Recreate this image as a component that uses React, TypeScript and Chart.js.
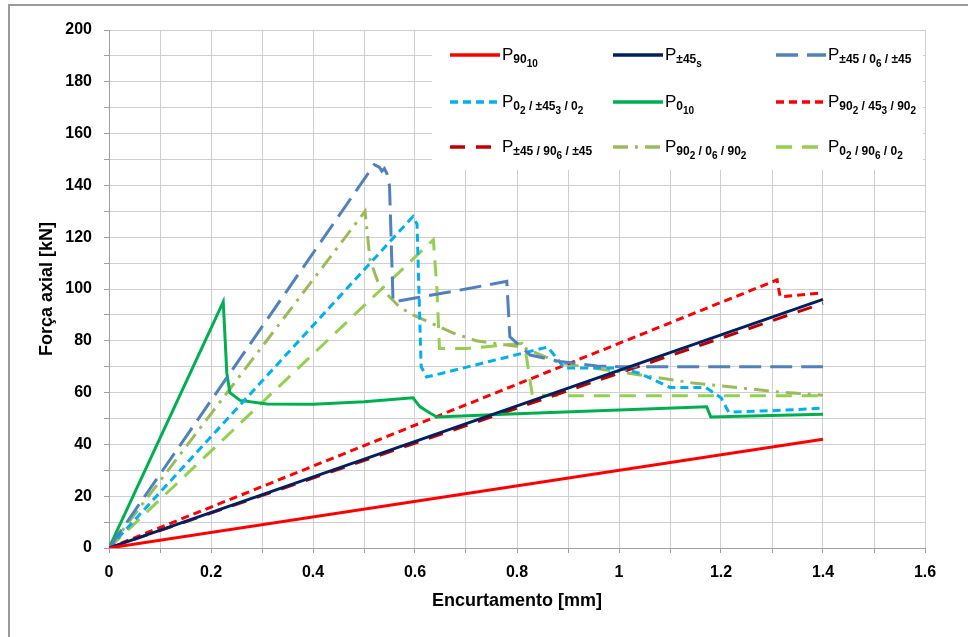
import React, { useEffect, useRef } from "react";
import { Chart, registerables } from "chart.js";

Chart.register(...registerables);

// ---- data ----
const p90_10X = [0, 1.4];
const p90_10Y = [0, 42];

const p45sX = [0, 1.4];
const p45sY = [0, 96];

const p45_06_45X = [0, 0.52, 0.53, 0.535, 0.54, 0.545, 0.55, 0.557, 0.6, 0.7, 0.78, 0.786, 0.826, 0.884, 0.957, 1.0, 1.4];
const p45_06_45Y = [0, 148, 147, 145.5, 146.5, 144.5, 140, 95, 96.5, 100, 103, 81.5, 74.5, 72, 70.3, 70, 70];

const p02_453_02X = [0, 0.596, 0.604, 0.612, 0.623, 0.86, 0.875, 0.893, 1.0, 1.04, 1.1, 1.17, 1.2, 1.215, 1.3, 1.4];
const p02_453_02Y = [0, 128, 125, 70, 66, 77.6, 74, 69.5, 69.5, 67.5, 62, 62, 58, 52.5, 53, 54];

const p0_10X = [0, 0.224, 0.231, 0.237, 0.257, 0.31, 0.4, 0.5, 0.596, 0.61, 0.63, 0.643, 0.8, 1.0, 1.172, 1.18, 1.4];
const p0_10Y = [0, 95, 67.6, 60, 57, 55.6, 55.5, 56.5, 58, 54.5, 52, 50.6, 51.8, 53.3, 54.5, 50.6, 51.6];

const p902_453_902X = [0, 1.31, 1.316, 1.4];
const p902_453_902Y = [0, 103.5, 97, 98.5];

const p45_906_45X = [0, 1.4];
const p45_906_45Y = [0, 94.5];

const p902_06_902X = [0, 0.502, 0.512, 0.531, 0.57, 0.596, 0.675, 0.72, 0.81, 0.884, 1.0, 1.145, 1.316, 1.4];
const p902_06_902Y = [0, 130, 111, 100.8, 93, 90, 83, 80, 77.6, 71.4, 68, 63.7, 60.2, 59];

const p02_906_02X = [0, 0.636, 0.643, 0.648, 0.7, 0.81, 0.816, 0.83, 0.9, 1.4];
const p02_906_02Y = [0, 119, 100, 77, 77, 79, 77, 59, 58.8, 58.8];

// legend labels: [text, level] (0 = normal, 1 = subscript, 2 = sub-subscript)
type Seg = [string, number];
const label90_10: Seg[] = [["P", 0], ["90", 1], ["10", 2]];
const label45s: Seg[] = [["P", 0], ["±45", 1], ["s", 2]];
const label45_06_45: Seg[] = [["P", 0], ["±45 / 0", 1], ["6", 2], [" / ±45", 1]];
const label02_453_02: Seg[] = [["P", 0], ["0", 1], ["2", 2], [" / ±45", 1], ["3", 2], [" / 0", 1], ["2", 2]];
const label0_10: Seg[] = [["P", 0], ["0", 1], ["10", 2]];
const label902_453_902: Seg[] = [["P", 0], ["90", 1], ["2", 2], [" / 45", 1], ["3", 2], [" / 90", 1], ["2", 2]];
const label45_906_45: Seg[] = [["P", 0], ["±45 / 90", 1], ["6", 2], [" / ±45", 1]];
const label902_06_902: Seg[] = [["P", 0], ["90", 1], ["2", 2], [" / 0", 1], ["6", 2], [" / 90", 1], ["2", 2]];
const label02_906_02: Seg[] = [["P", 0], ["0", 1], ["2", 2], [" / 90", 1], ["6", 2], [" / 0", 1], ["2", 2]];

const xTitle = "Encurtamento [mm]";
const yTitle = "Força axial [kN]";

const seriesDefs = [
  { xs: p90_10X, ys: p90_10Y, label: label90_10, color: "#FF0000", dash: [] as number[] },
  { xs: p45sX, ys: p45sY, label: label45s, color: "#002060", dash: [] },
  { xs: p45_06_45X, ys: p45_06_45Y, label: label45_06_45, color: "#4F81BD", dash: [22, 9] },
  { xs: p02_453_02X, ys: p02_453_02Y, label: label02_453_02, color: "#00B0F0", dash: [8, 5] },
  { xs: p0_10X, ys: p0_10Y, label: label0_10, color: "#00B050", dash: [] },
  { xs: p902_453_902X, ys: p902_453_902Y, label: label902_453_902, color: "#FF0000", dash: [8, 5] },
  { xs: p45_906_45X, ys: p45_906_45Y, label: label45_906_45, color: "#C00000", dash: [15, 11] },
  { xs: p902_06_902X, ys: p902_06_902Y, label: label902_06_902, color: "#9BBB59", dash: [15, 7, 3, 7] },
  { xs: p02_906_02X, ys: p02_906_02Y, label: label02_906_02, color: "#92D050", dash: [16, 10] },
];

const FONT = '"Liberation Sans", Arial, sans-serif';

function drawRich(ctx: CanvasRenderingContext2D, x: number, baseline: number, segs: Seg[]) {
  let cx = x;
  for (const [t, lvl] of segs) {
    const size = lvl === 0 ? 17 : lvl === 1 ? 12 : 10;
    const dy = lvl === 0 ? 0 : lvl === 1 ? 3 : 7;
    ctx.font = `${lvl === 0 ? "normal" : "bold"} ${size}px ${FONT}`;
    ctx.fillText(t, cx, baseline + dy);
    cx += ctx.measureText(t).width;
  }
}

const framePlugin = {
  id: "frame",
  beforeDraw(chart: any) {
    const ctx = chart.ctx as CanvasRenderingContext2D;
    ctx.save();
    ctx.fillStyle = "#ffffff";
    ctx.fillRect(0, 0, chart.width, chart.height);
    ctx.strokeStyle = "#9a9a9a";
    ctx.lineWidth = 2;
    ctx.beginPath();
    ctx.moveTo(9, chart.height);
    ctx.lineTo(9, 5);
    ctx.lineTo(chart.width, 5);
    ctx.stroke();
    ctx.restore();
  },
};

const legendPlugin = {
  id: "richLegend",
  afterDatasetsDraw(chart: any) {
    const ctx = chart.ctx as CanvasRenderingContext2D;
    ctx.save();
    ctx.fillStyle = "#ffffff";
    ctx.fillRect(432, 31, 491, 139);
    const colX = [450, 613, 776];
    const rowY = [55, 102, 147];
    seriesDefs.forEach((s, i) => {
      const c = i % 3;
      const r = Math.floor(i / 3);
      const x0 = colX[c];
      const y0 = rowY[r];
      ctx.strokeStyle = s.color;
      ctx.lineWidth = 3.5;
      ctx.setLineDash(s.dash.length ? s.dash : []);
      ctx.beginPath();
      ctx.moveTo(x0, y0);
      ctx.lineTo(x0 + 50, y0);
      ctx.stroke();
      ctx.setLineDash([]);
      ctx.fillStyle = "#000000";
      ctx.textBaseline = "alphabetic";
      ctx.textAlign = "left";
      drawRich(ctx, x0 + 52, y0 + 5, s.label);
    });
    ctx.restore();
  },
};

export default function App() {
  const ref = useRef<HTMLCanvasElement | null>(null);
  useEffect(() => {
    if (!ref.current) return;
    const datasets = seriesDefs.map((s) => ({
      data: s.xs.map((x, i) => ({ x, y: s.ys[i] })),
      borderColor: s.color,
      backgroundColor: s.color,
      borderWidth: 3,
      borderDash: s.dash,
      pointRadius: 0,
      tension: 0,
      fill: false,
    }));
    const chart = new Chart(ref.current, {
      type: "line",
      data: { datasets },
      options: {
        animation: false,
        responsive: false,
        maintainAspectRatio: false,
        layout: { padding: { left: 0, right: 43, top: 30, bottom: 0 } },
        plugins: { legend: { display: false }, tooltip: { enabled: false } },
        scales: {
          x: {
            type: "linear",
            min: 0,
            max: 1.6,
            afterFit: (s: any) => {
              s.height = 89;
            },
            border: { color: "#a0a0a0", width: 1 },
            grid: { color: "#cfcfcf", lineWidth: 1, tickLength: 5, tickColor: "#a0a0a0" },
            ticks: {
              stepSize: 0.1,
              autoSkip: false,
              maxRotation: 0,
              padding: 10,
              color: "#000000",
              font: { family: FONT, size: 16, weight: "bold" },
              callback: (v: any) => {
                const k = Math.round(Number(v) * 10);
                return k % 2 === 0 ? String(k / 10) : "";
              },
            },
            title: {
              display: true,
              text: xTitle,
              color: "#000000",
              font: { family: FONT, size: 18, weight: "bold" },
              padding: { top: 0, bottom: 25 },
            },
          },
          y: {
            type: "linear",
            min: 0,
            max: 200,
            afterFit: (s: any) => {
              s.width = 109;
            },
            border: { color: "#a0a0a0", width: 1 },
            grid: { color: "#cfcfcf", lineWidth: 1, tickLength: 5, tickColor: "#a0a0a0" },
            ticks: {
              stepSize: 10,
              autoSkip: false,
              padding: 12,
              color: "#000000",
              font: { family: FONT, size: 16, weight: "bold" },
              callback: (v: any) => {
                const n = Math.round(Number(v));
                return n % 20 === 0 ? String(n) : "";
              },
            },
            title: {
              display: true,
              text: yTitle,
              color: "#000000",
              font: { family: FONT, size: 18, weight: "bold" },
              padding: { top: 36, bottom: 0 },
            },
          },
        },
      },
      plugins: [framePlugin, legendPlugin],
    } as any);
    return () => chart.destroy();
  }, []);
  return (
    <div style={{ position: "fixed", left: 0, top: 0, width: 968, height: 637 }}>
      <canvas ref={ref} width={968} height={637} style={{ width: 968, height: 637, display: "block" }} />
    </div>
  );
}
